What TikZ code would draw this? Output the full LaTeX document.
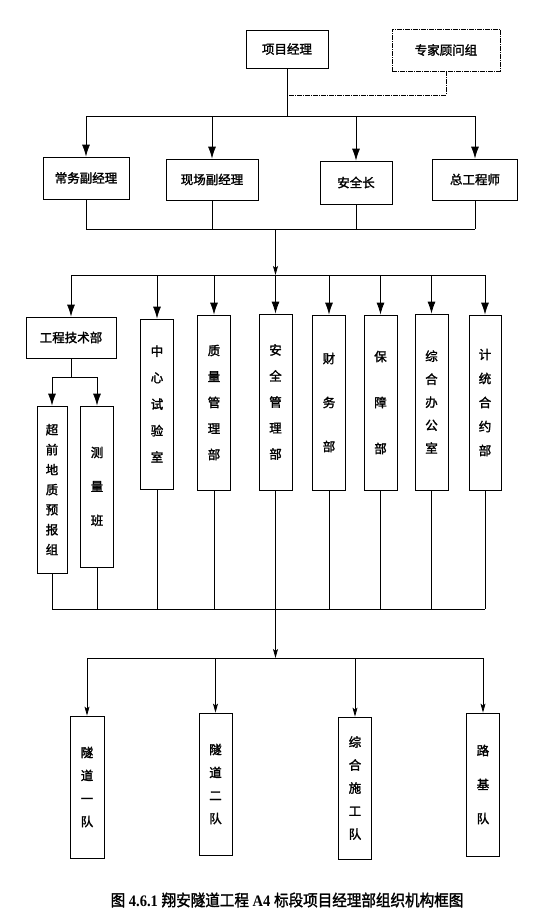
\documentclass[tikz,border=0pt]{standalone}
\usepackage{fontspec}
\setmainfont{Liberation Serif}
\newfontfamily\cjk[FakeBold=1.8]{Noto Sans CJK SC}
\usepackage{tikz}
\usetikzlibrary{arrows.meta}
\usetikzlibrary{calc}
\tikzset{
  unit/.style={draw, line width=0.8pt, inner sep=0pt, align=center, font=\cjk\fontsize{12.5pt}{15pt}\selectfont},
  colunit/.style={unit, minimum width=33pt, font=\cjk\fontsize{12.5pt}{#1}\selectfont},
  colunit/.default=24pt,
  link/.style={line width=0.8pt},
  advice/.style={line width=0.8pt, dash pattern=on 5pt off 1pt on 1pt off 1pt},
  bigarrow/.style={link, -{Latex[length=12pt,width=8pt]}},
  smallarrow/.style={link, -{Stealth[length=9pt,width=5pt,inset=2pt]}},
}

\begin{document}
\begin{tikzpicture}[x=1pt, y=-1pt]
            \useasboundingbox (0,0) rectangle (555,919);
            % Project manager & experts
            \node[unit, minimum width=82pt,  minimum height=38pt]         (xmjl)  at (287, 49.0) {项目经理};
            \node[unit, advice, minimum width=108pt, minimum height=42pt] (zjgw)  at (446, 50.0) {专家顾问组};
            \coordinate (bus1)   at (287,116);
            \coordinate (advbus) at (446, 95);
            \draw[link]   (xmjl) -- (bus1);
            \draw[advice] (zjgw) -- (advbus) -- (advbus -| xmjl);
            % Deputies
            \node[unit, minimum width=86pt, minimum height=42pt] (cwfjl) at ( 86,178.0) {常务副经理};
            \node[unit, minimum width=92pt, minimum height=41pt] (xcfjl) at (212,179.5) {现场副经理};
            \node[unit, minimum width=72pt, minimum height=43pt] (aqz)   at (356,182.5) {安全长};
            \node[unit, minimum width=85pt, minimum height=41pt] (zgcs)  at (475,179.5) {总工程师};
            \draw[link] (bus1 -| cwfjl) -- (bus1 -| zgcs);
            \foreach \n in {cwfjl, xcfjl, aqz, zgcs}
                \draw[bigarrow] (bus1 -| \n) -- (\n);
            \coordinate (bus2) at (275.5,229);
            \coordinate (bus3) at (275.5,275);
            \draw[link] (bus2 -| cwfjl) -- (bus2 -| zgcs);
            \foreach \n in {cwfjl, xcfjl, aqz, zgcs}
                \draw[link] (\n) -- (bus2 -| \n);
            \draw[smallarrow] (bus2) -- (bus3);
            % Departments
            \node[unit, minimum width=90pt, minimum height=41pt]    (gcjsb) at ( 71,337.5) {工程技术部};
            \node[colunit=26.5pt, minimum height=170pt]             (zxsys) at (157,404.0) {中\\心\\试\\验\\室};
            \node[colunit=26pt,   minimum height=175pt]             (zlglb) at (214,402.5) {质\\量\\管\\理\\部};
            \node[colunit=26pt,   minimum height=176pt]             (aqglb) at (275.5,402.0) {安\\全\\管\\理\\部};
            \node[colunit=44pt,   minimum height=175pt]             (cwb)   at (329,402.5) {财\\务\\部};
            \node[colunit=46pt,   minimum height=175pt]             (bzb)   at (380.5,402.5) {保\\障\\部};
            \node[colunit=23pt,   minimum height=176pt]             (zhbgs) at (431.5,402.0) {综\\合\\办\\公\\室};
            \node[colunit=24pt,   minimum width=32pt, minimum height=175pt] (jthyb) at (485,402.5) {计\\统\\合\\约\\部};
            \draw[link] (bus3 -| gcjsb) -- (bus3 -| jthyb);
            \foreach \n in {gcjsb, zxsys, zlglb, aqglb, cwb, bzb, zhbgs, jthyb}
                \draw[bigarrow] (bus3 -| \n) -- (\n);
            % Technical sub-units
            \coordinate (bus4) at (71,377);
            \node[colunit=20pt, minimum width=30pt, minimum height=167pt] (cqdz) at (52,489.5) {超\\前\\地\\质\\预\\报\\组};
            \node[colunit=34pt, minimum height=161pt]                     (clb)  at (97,486.5) {测\\量\\班};
            \draw[link] (gcjsb) -- (bus4);
            \draw[link] (bus4 -| cqdz) -- (bus4 -| clb);
            \foreach \n in {cqdz, clb}
                \draw[bigarrow] (bus4 -| \n) -- (\n);
            % Collecting line
            \coordinate (bus5) at (275.5,609);
            \coordinate (bus6) at (275.5,658);
            \draw[link] (bus5 -| cqdz) -- (bus5 -| jthyb);
            \foreach \n in {cqdz, clb, zxsys, zlglb, cwb, bzb, zhbgs, jthyb}
                \draw[link] (\n) -- (bus5 -| \n);
            \draw[smallarrow] (aqglb) -- (bus6);
            % Work teams
            \node[colunit=23pt, minimum width=34pt, minimum height=142pt] (sd1)  at ( 87,787.0) {隧\\道\\一\\队};
            \node[colunit=23pt, minimum height=142pt]                     (sd2)  at (215.5,784.0) {隧\\道\\二\\队};
            \node[colunit=23pt, minimum height=142pt]                     (zhsg) at (355,788.0) {综\\合\\施\\工\\队};
            \node[colunit=34pt, minimum height=143pt]                     (ljd)  at (483,784.5) {路\\基\\队};
            \draw[link] (bus6 -| sd1) -- (bus6 -| ljd);
            \foreach \n in {sd1, sd2, zhsg, ljd}
                \draw[smallarrow] (bus6 -| \n) -- (\n);
            % Caption
            \node[font=\fontsize{16pt}{18pt}\selectfont, xscale=0.91] (caption) at (287,900)
                 {{\cjk 图} \textbf{4.6.1} {\cjk 翔安隧道工程} \textbf{A4} {\cjk 标段项目经理部组织机构框图}};
\end{tikzpicture}
\end{document}
